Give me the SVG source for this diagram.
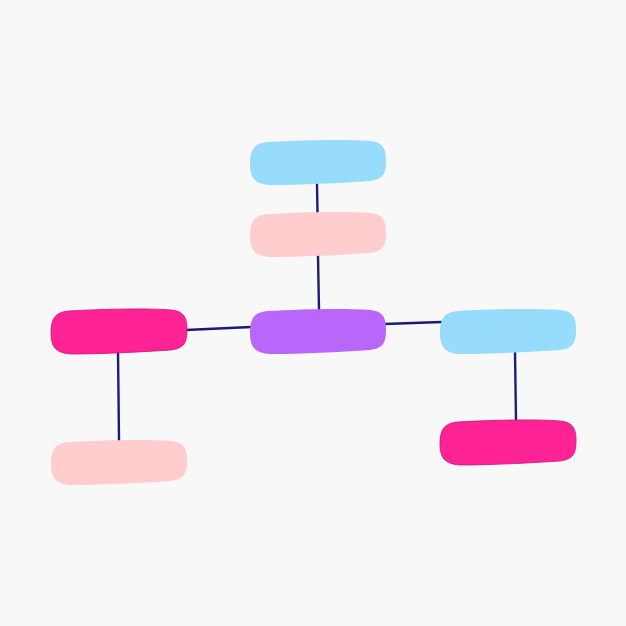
<svg xmlns="http://www.w3.org/2000/svg" xmlns:xlink="http://www.w3.org/1999/xlink" width="626" height="626" viewBox="0 0 626 626">
<style>
.blue{fill:#97dbfd}
.lpink{fill:#ffcdcd}
.purple{fill:#b966fa}
.mag{fill:#ff2395;stroke:#c8127a;stroke-width:0.8}
.edge{stroke:#1b1b78;stroke-width:2.4;fill:none;stroke-linecap:round}
</style>
<defs>
<path id="blob" d="M 18 2 C 50 0 100 -1 120 1 C 133 2 136 9 136 20 C 136 33 134 39 120 41 C 90 43 50 45 20 45 C 5 44 0 38 0 24 C 0 10 4 3 18 2 Z"/>
</defs>
<rect width="626" height="626" fill="#f8f8f8"/>
<g id="connectors">
<line class="edge" x1="317" y1="184" x2="317.5" y2="213"/>
<line class="edge" x1="318" y1="256" x2="319" y2="310"/>
<line class="edge" x1="186" y1="330" x2="251" y2="327"/>
<line class="edge" x1="385" y1="324" x2="441" y2="322"/>
<line class="edge" x1="118" y1="352" x2="119" y2="440"/>
<line class="edge" x1="515" y1="352" x2="516" y2="420"/>
</g>
<g id="node-top"><use xlink:href="#blob" class="blue" transform="translate(250,140)"/></g>
<g id="node-upper-pink"><use xlink:href="#blob" class="lpink" transform="translate(250,212)"/></g>
<g id="node-center"><use xlink:href="#blob" class="purple" transform="translate(250,309)"/></g>
<g id="node-left"><use xlink:href="#blob" class="mag" transform="translate(51,309)"/></g>
<g id="node-left-bottom"><use xlink:href="#blob" class="lpink" transform="translate(51,440)"/></g>
<g id="node-right"><use xlink:href="#blob" class="blue" transform="translate(440,309)"/></g>
<g id="node-right-bottom"><use xlink:href="#blob" class="mag" transform="translate(440,420)"/></g>
</svg>
